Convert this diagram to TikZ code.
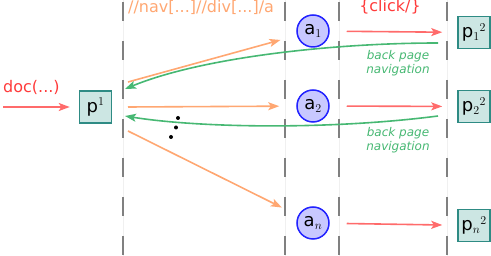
\documentclass[tikz,border=0pt]{standalone}
\usepackage{fontspec}
\setmainfont{DejaVu Sans}
\usepackage{xcolor}
\usetikzlibrary{arrows.meta,positioning,calc}
\definecolor{doctxt}{HTML}{FF3B3B}
\definecolor{docarr}{HTML}{FF6B6B}
\definecolor{xorange}{HTML}{FFA772}
\definecolor{backgreen}{HTML}{47B873}
\definecolor{pagefill}{HTML}{CCE6E3}
\definecolor{pageline}{HTML}{2E8B84}
\definecolor{anchfill}{HTML}{C8C8FF}
\definecolor{anchline}{HTML}{2222FF}
\definecolor{sepgray}{HTML}{808080}

\begin{document}
\begin{tikzpicture}[x=1pt, y=-1pt, font=\fontsize{16}{19}\selectfont]
    \tikzset{page/.style={draw=pageline, fill=pagefill, line width=1.5pt,
             minimum width=32pt, minimum height=32pt, inner sep=0pt,
             font=\fontsize{18}{20}\selectfont},
             anch/.style={circle, draw=anchline, fill=anchfill, line width=1.5pt,
             minimum size=32pt, inner sep=0pt, font=\fontsize{18}{20}\selectfont},
             sep/.style={draw=sepgray, line width=1.8pt, dash pattern=on 19pt off 20pt},
             sepfaint/.style={draw=sepgray!12, line width=0.5pt},
             tip/.style={line width=1.6pt, -{Stealth[length=11pt, width=8pt, inset=2.5pt]}},
             note/.style={font=\fontsize{12}{14}\selectfont\itshape, text=backgreen,
             align=center, anchor=north, inner sep=2pt}}
    \useasboundingbox (0,0) rectangle (491,256);
    \draw[sepfaint] (123,0) -- (123,256);
    \draw[sepfaint] (285,0) -- (285,256);
    \draw[sepfaint] (339,0) -- (339,256);
    \draw[sepfaint] (447,0) -- (447,256);
    \draw[sep] (123,2) -- (123,256);
    \draw[sep] (285,2) -- (285,256);
    \draw[sep] (339,2) -- (339,256);
    \draw[sep] (447,2) -- (447,256);
    \node[page] (p1) at (95.5,107) {p$^1$};
    \node[anch] (a1) at (313,31) {a$_1$};
    \node[anch] (a2) at (313,106) {a$_2$};
    \node[anch] (an) at (313,223) {a$_n$};
    \node[page] (p12) at (474,32.5) {p$_1{}^2$};
    \node[page] (p22) at (474,106.5) {p$_2{}^2$};
    \node[page] (pn2) at (474,225.5) {p$_n{}^2$};
    \node[anchor=base west, inner sep=0pt, text=doctxt] (doc) at (3,93) {doc(...)};
    \node[anchor=base west, inner sep=0pt, text=xorange] (xpath) at (128,12.5) {//nav[...]//div[...]/a};
    \node[anchor=base, inner sep=0pt, text=doctxt] (click) at (390,12) {\{click/\}};
    \node[note] (back1) at (398,48) {back page\\navigation};
    \node[note] (back2) at (398,125) {back page\\navigation};
    \coordinate (docin) at (3,107);
    \coordinate (o1) at (128,82);
    \coordinate (o2) at (128,107);
    \coordinate (o3) at (128,131);
    \coordinate (g1s) at (438,43);
    \coordinate (g1e) at (125,89);
    \coordinate (g2s) at (438,116);
    \coordinate (g2e) at (125,116);
    \draw[tip, docarr, shorten >=9pt] (docin) -- (p1);
    \draw[tip, xorange, shorten >=17pt] (o1) -- (a1);
    \draw[tip, xorange, shorten >=17pt] (o2) -- (a2);
    \draw[tip, xorange, shorten >=18pt] (o3) -- (an);
    \draw[tip, docarr, shorten <=17pt, shorten >=15pt] (a1) -- (p12);
    \draw[tip, docarr, shorten <=17pt, shorten >=15pt] (a2) -- (p22);
    \draw[tip, docarr, shorten <=17pt, shorten >=15pt] (an) -- (pn2);
    \draw[tip, backgreen] (g1s) .. controls (330,43) and (200,58) .. (g1e);
    \draw[tip, backgreen] (g2s) .. controls (330,130) and (200,128) .. (g2e);
    \fill (178,118) circle (2pt);
    \fill (176,127.5) circle (2pt);
    \fill (171,137) circle (2pt);
  \end{tikzpicture}
\end{document}
